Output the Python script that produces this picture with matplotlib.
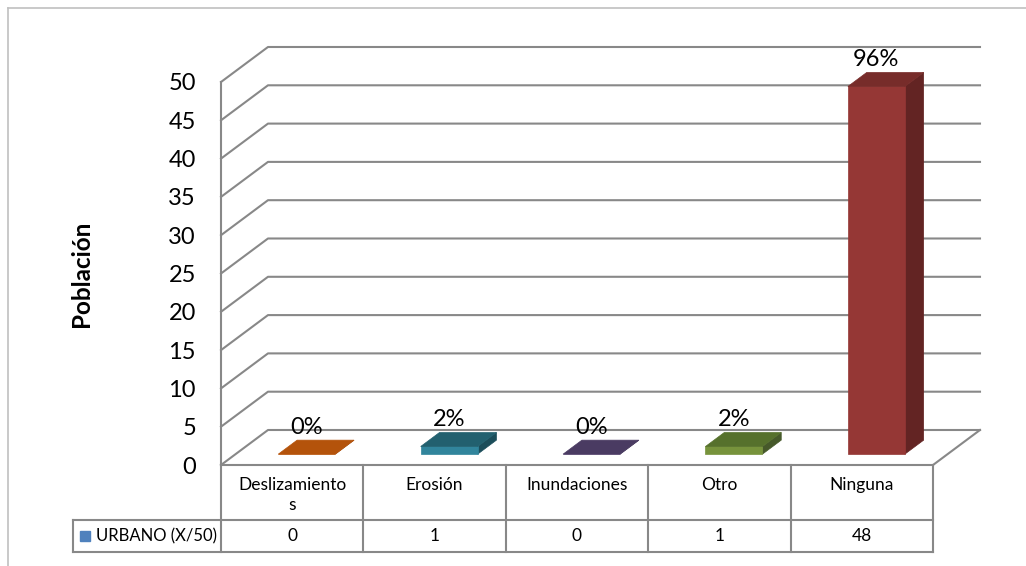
import matplotlib
matplotlib.use('Agg')
import matplotlib.pyplot as plt
from matplotlib.patches import Polygon
from matplotlib.lines import Line2D

plt.rcParams['font.family'] = ['Lato', 'DejaVu Sans']

# datos
categorias = ['Deslizamientos', 'Erosión', 'Inundaciones', 'Otro', 'Ninguna']
etiquetas_tabla = ['Deslizamiento\ns', 'Erosión', 'Inundaciones', 'Otro', 'Ninguna']
valores = [0, 1, 0, 1, 48]
total = 50
serie = 'URBANO (X/50)'

# colores de cada barra: frente, tapa, lateral
col_frente = ['#c0570d', '#31859c', '#5f497a', '#77933c', '#953735']
col_tapa = ['#b4530b', '#22606f', '#4a3b62', '#56712c', '#772c2a']
col_lado = ['#8a3f07', '#1b4d5a', '#3a2d4c', '#46592a', '#632423']

GRIS = '#888888'
DX, DY = 0.33, 4.57        # profundidad del piso (unidades de datos)
ANCHO = 0.40               # ancho de barra
T0, T1 = 0.31, 0.71        # posicion de la barra en profundidad

fig = plt.figure(figsize=(10.26, 5.66), dpi=100)

# marco exterior del grafico
fig.add_artist(Line2D([8/1026, 1.0], [1 - 8/566, 1 - 8/566], color='#c0c0c0', lw=1.2))
fig.add_artist(Line2D([8/1026, 8/1026], [0.0, 1 - 8/566], color='#c0c0c0', lw=1.2))

ax = fig.add_axes([221/1026, 101/566, 712/1026, 383/566])
ax.set_xlim(0, 5)
ax.set_ylim(0, 50)
for s in ax.spines.values():
    s.set_visible(False)
ax.set_xticks([])
ax.set_yticks(range(0, 51, 5))
ax.tick_params(axis='y', length=0, pad=18, labelsize=17)
ax.set_ylabel('Población', fontsize=17.5, fontweight='bold', labelpad=54)
ax.patch.set_visible(False)


def proj(x, v, t):
    return (x + t * DX, v + t * DY)


# pared izquierda y lineas de division
ax.plot([0, 0], [0, 50], color=GRIS, lw=1.5, clip_on=False, zorder=2)
for v in range(0, 51, 5):
    xs = [0, DX, 5 + DX]
    ys = [v, v + DY, v + DY]
    ax.plot(xs, ys, color=GRIS, lw=1.5, clip_on=False, zorder=1)

# borde derecho del piso
ax.plot([5, 5 + DX], [0, DY], color=GRIS, lw=1.5, clip_on=False, zorder=1)

# barras 3D
for i, v in enumerate(valores):
    x0 = i + 0.5 - ANCHO / 2
    x1 = x0 + ANCHO
    frente = [proj(x0, 0, T0), proj(x1, 0, T0), proj(x1, v, T0), proj(x0, v, T0)]
    tapa = [proj(x0, v, T0), proj(x1, v, T0), proj(x1, v, T1), proj(x0, v, T1)]
    lado = [proj(x1, 0, T0), proj(x1, 0, T1), proj(x1, v, T1), proj(x1, v, T0)]
    for pts, c in [(lado, col_lado[i]), (frente, col_frente[i]), (tapa, col_tapa[i])]:
        ax.add_patch(Polygon(pts, closed=True, facecolor=c, edgecolor=c,
                             lw=0.5, clip_on=False, zorder=3))
    pct = v / total * 100
    lx, ly = proj(i + 0.5, v, T1)
    ax.annotate(f'{pct:.0f}%', xy=(i + 0.5 + T0 * DX, ly), xytext=(0, 9),
                textcoords='offset points', ha='center', va='center',
                fontsize=17, zorder=4, annotation_clip=False)

# tabla de datos
axt = fig.add_axes([221/1026, 14/566, 712/1026, 87/566])
axt.set_xlim(0, 5)
axt.set_ylim(87, 0)
axt.axis('off')
Y_CAB, Y_VAL, Y_FIN = 0, 55, 87
X_LEY = -1.04

kw = dict(color=GRIS, lw=1.5, clip_on=False, solid_capstyle='projecting')
axt.plot([0, 5], [Y_CAB, Y_CAB], **kw)
axt.plot([X_LEY, 5], [Y_VAL, Y_VAL], **kw)
axt.plot([X_LEY, 5], [Y_FIN, Y_FIN], **kw)
axt.plot([X_LEY, X_LEY], [Y_VAL, Y_FIN], **kw)
for k in range(len(categorias) + 1):
    axt.plot([k, k], [Y_CAB, Y_FIN], **kw)

for i, (cab, v) in enumerate(zip(etiquetas_tabla, valores)):
    axt.text(i + 0.5, 12, cab, ha='center', va='top', fontsize=12.5,
             linespacing=1.3)
    axt.text(i + 0.5, (Y_VAL + Y_FIN) / 2, str(v), ha='center', va='center',
             fontsize=12.5)

axt.plot([X_LEY + 0.088], [(Y_VAL + Y_FIN) / 2], marker='s', ms=7.5,
         color='#4f81bd', clip_on=False, lw=0)
axt.text(X_LEY + 0.16, (Y_VAL + Y_FIN) / 2, serie, ha='left', va='center',
         fontsize=12)

fig.savefig('out.png', dpi=100)
